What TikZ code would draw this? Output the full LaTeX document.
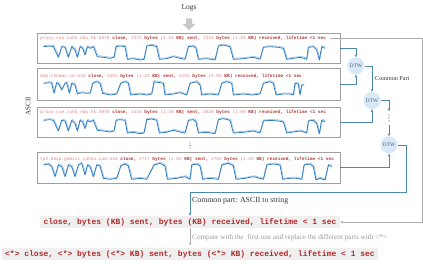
\documentclass[tikz,border=0pt]{standalone}
\usepackage{fontspec}
\setmainfont{Liberation Serif}
\newfontfamily\codefont{Liberation Mono}
\usetikzlibrary{arrows.meta}
\definecolor{lred}{HTML}{D98585}
\definecolor{dred}{HTML}{B03030}
\definecolor{cred}{HTML}{B22A2A}
\definecolor{connblue}{HTML}{4A88AC}
\definecolor{waveblue}{HTML}{2F7DC1}
\definecolor{wavelight}{HTML}{A8CCEA}
\definecolor{dtwfill}{HTML}{D9E8F6}
\definecolor{dtwtext}{HTML}{44617F}
\definecolor{boxgray}{HTML}{A0A0A0}
\definecolor{loopgray}{HTML}{ABABAB}
\definecolor{strfill}{HTML}{EFEFEF}
\definecolor{logarrow}{HTML}{C8C8C8}
\newcommand{\vp}[1]{{\color{lred}#1}}
\newcommand{\kp}[1]{{\color{dred}\bfseries#1}}
\def\waveA{(130,140) -- (150,138) -- (160,140) -- (175,172) -- (185,140) -- (195,142) -- (205,172) -- (215,140) -- (225,150) -- (232,172) -- (240,140) -- (248,145) -- (255,165) -- (262,140) -- (270,145) -- (280,140) -- (292,170) -- (310,172) -- (330,175) -- (342,172) -- (348,140) -- (360,138) -- (375,140) -- (382,178) -- (400,176) -- (420,180) -- (432,178) -- (440,138) -- (455,136) -- (470,140) -- (478,178) -- (500,176) -- (520,170) -- (540,175) -- (555,178) -- (565,140) -- (580,138) -- (588,145) -- (595,178) -- (620,176) -- (645,180) -- (655,138) -- (670,135) -- (690,140) -- (700,178) -- (730,176) -- (760,172) -- (780,178) -- (790,142) -- (810,140) -- (835,142) -- (850,145) -- (860,178) -- (880,175) -- (900,172) -- (915,176) -- (920,178) -- (925,142) -- (940,140) -- (950,150) -- (958,180) -- (965,140) -- (975,145)}
\def\waveB{(130,250) -- (150,248) -- (155,250) -- (162,280) -- (170,248) -- (178,255) -- (185,270) -- (195,250) -- (200,248) -- (208,280) -- (215,250) -- (225,255) -- (232,282) -- (245,278) -- (260,280) -- (270,280) -- (278,250) -- (290,245) -- (300,250) -- (308,280) -- (330,285) -- (350,282) -- (362,250) -- (375,245) -- (385,250) -- (392,285) -- (420,282) -- (440,285) -- (455,282) -- (462,245) -- (480,248) -- (490,250) -- (495,285) -- (520,282) -- (540,278) -- (560,285) -- (570,250) -- (590,245) -- (600,255) -- (605,285) -- (630,282) -- (655,285) -- (665,250) -- (680,245) -- (695,250) -- (700,285) -- (730,282) -- (755,285) -- (780,282) -- (790,250) -- (810,245) -- (820,250) -- (828,285) -- (850,282) -- (870,282) -- (880,285) -- (885,250) -- (895,252) -- (900,285) -- (905,255) -- (912,255)}
\def\waveD{(130,495) -- (145,492) -- (155,500) -- (165,530) -- (175,495) -- (185,500) -- (195,530) -- (205,495) -- (215,500) -- (225,530) -- (235,495) -- (245,490) -- (255,525) -- (262,495) -- (270,500) -- (280,530) -- (290,495) -- (300,498) -- (310,535) -- (330,538) -- (350,535) -- (362,498) -- (375,492) -- (385,498) -- (395,538) -- (420,535) -- (440,538) -- (462,495) -- (480,490) -- (495,498) -- (502,538) -- (530,535) -- (555,530) -- (570,538) -- (575,495) -- (590,492) -- (600,498) -- (608,538) -- (630,535) -- (655,538) -- (665,495) -- (685,490) -- (700,498) -- (708,538) -- (735,535) -- (760,530) -- (790,538) -- (800,495) -- (820,492) -- (840,495) -- (848,538) -- (870,535) -- (890,535) -- (905,538) -- (912,495) -- (930,492) -- (940,500) -- (948,540) -- (960,535) -- (975,540) -- (985,495) -- (995,500)}
\begin{document}
\begin{tikzpicture}[x=1pt,y=-1pt,
  logbox/.style={draw=boxgray, line width=0.8pt, minimum width=303pt, inner sep=0},
  logtext/.style={anchor=west, inner sep=0, font=\codefont\fontsize{4.45}{5}\selectfont},
  dtw/.style={circle, fill=dtwfill, minimum size=17pt, inner sep=0, text=dtwtext, font=\fontsize{5.3}{6}\selectfont},
  conn/.style={draw=connblue, line width=0.8pt, -{Stealth[length=3pt,width=2.6pt]}},
  loopline/.style={draw=loopgray, line width=0.6pt, -{Stealth[length=3pt,width=2.6pt]}},
  strbox/.style={fill=strfill, inner sep=0, minimum height=12pt, text=cred, font=\codefont\bfseries\fontsize{8}{9}\selectfont},
  lbl/.style={inner sep=0, text=black!80},
  wave/.style={draw=waveblue, line width=0.8pt, line join=round},
  wavel/.style={draw=wavelight, line width=0.8pt, line join=round},
  dotsnode/.style={inner sep=0, text=black!70},
  dotmark/.style={fill=black!70}]
\useasboundingbox (0,0) rectangle (423,264);

% title and arrow
\node[lbl, font=\fontsize{7.5}{8}\selectfont] (logs) at (189,8) {Logs};
\fill[logarrow] (186,18.5) -- (192,18.5) -- (192,24) -- (195.5,24) -- (189,30) -- (182.5,24) -- (186,24) -- cycle;

% ASCII label
\node[lbl, rotate=90, font=\fontsize{7}{8}\selectfont] (ascii) at (28,106) {ASCII};

% log boxes
\node[logbox, minimum height=30pt] (b1) at (188.5,48) {};
\node[logbox, minimum height=32pt] (b2) at (188.5,84) {};
\node[logbox, minimum height=30pt] (b3) at (188.5,122) {};
\node[logbox, minimum height=31pt] (b4) at (188.5,167.5) {};

\node[logtext] (t1) at (40,38.3) {\vp{proxy.cse.cuhk.edu.hk:5070} \kp{close,} \vp{1372} \kp{bytes} \vp{(1.33} \kp{KB)} \kp{sent,} \vp{1224} \kp{bytes} \vp{(1.19} \kp{KB)} \kp{received, lifetime <1 sec}};
\node[logtext] (t2) at (40,76) {\vp{dmp.tenmax.io:443} \kp{close,} \vp{1251} \kp{bytes} \vp{(1.22} \kp{KB)} \kp{sent,} \vp{5191} \kp{bytes} \vp{(5.06} \kp{KB)} \kp{received, lifetime <1 sec}};
\node[logtext] (t3) at (40,112.5) {\vp{proxy.cse.cuhk.edu.hk:5070} \kp{close,} \vp{1416} \kp{bytes} \vp{(1.38} \kp{KB)} \kp{sent,} \vp{1028} \kp{bytes} \vp{(1.00} \kp{KB)} \kp{received, lifetime <1 sec}};
\node[logtext] (t4) at (40,159) {\vp{tp2.beap.gemini.yahoo.com:443} \kp{close,} \vp{2717} \kp{bytes} \vp{(2.65} \kp{KB)} \kp{sent,} \vp{4702} \kp{bytes} \vp{(4.59} \kp{KB)} \kp{received, lifetime <1 sec}};

% waves
\begin{scope}[x=0.33333pt,y=-0.33333pt]
  \draw[wavel, shift={(2,-3)}] \waveA;
  \draw[wave] \waveA;
  \draw[wavel, shift={(2,-3)}] \waveB;
  \draw[wave] \waveB;
  \begin{scope}[shift={(0,221)}]
    \draw[wavel, shift={(2,-3)}] \waveA;
    \draw[wave] \waveA;
  \end{scope}
  \draw[wavel, shift={(2,-3)}] \waveD;
  \draw[wave] \waveD;
\end{scope}

% vertical dots between boxes
\node[inner sep=0, minimum width=3pt, minimum height=7pt] (bdots) at (190,145.5) {};
\foreach \yy in {-2.4,0,2.4} \fill[dotmark] ([yshift=\yy pt]bdots.center) circle (0.55pt);

% DTW nodes
\node[dtw] (d1) at (356,66) {DTW};
\node[dtw] (d2) at (372,100.5) {DTW};
\node[dtw] (d3) at (389,145) {DTW};
\node[inner sep=0, minimum width=3pt, minimum height=13pt] (vd) at (389,118) {};
\foreach \yy in {-3,0,3} \fill[dotmark] ([yshift=\yy pt]vd.center) circle (0.6pt);
\node[lbl, anchor=west, font=\fontsize{6.1}{7}\selectfont] (cpart) at (375,79) {Common Part};

% connectors
\draw[conn] (b1.east) -| (d1.north);
\draw[conn] (b2.east) -| (d1.south);
\draw[conn] (d1.east) -| (d2.north);
\draw[conn] (b3.east) -| (d2.south);
\draw[conn] (d2.east) -| (vd.north);
\draw[conn] (vd.south) -- (d3.north);
\draw[conn] (b4.east) -| (d3.south);

% common string
\node[strbox, minimum width=300pt] (cs) at (190,222) {close, bytes (KB) sent, bytes (KB) received, lifetime < 1 sec};
\node[strbox, minimum width=376pt] (fin) at (190,254) {<*> close, <*> bytes (<*> KB) sent, bytes (<*> KB) received, lifetime < 1 sec};

\coordinate (c1) at (406,192);
\draw[conn] (d3.east) -| (c1) -| (cs.north);
\node[lbl, anchor=west, font=\fontsize{7.8}{9}\selectfont] (cplbl) at (192,200.5) {Common part: ASCII to string};

\coordinate (c3) at (422,222);
\draw[loopline, shorten <=4pt] (t1.east) -| (c3) -- (cs.east);

\draw[loopline, shorten >=2.5pt, shorten <=1pt] (cs.south) -- (fin.north);
\node[lbl, anchor=west, text=black!40, font=\fontsize{7.2}{8}\selectfont] (cmp) at (192,237.5) {Compare with the\ \ first one and replace the different parts with <*>};
\end{tikzpicture}
\end{document}
